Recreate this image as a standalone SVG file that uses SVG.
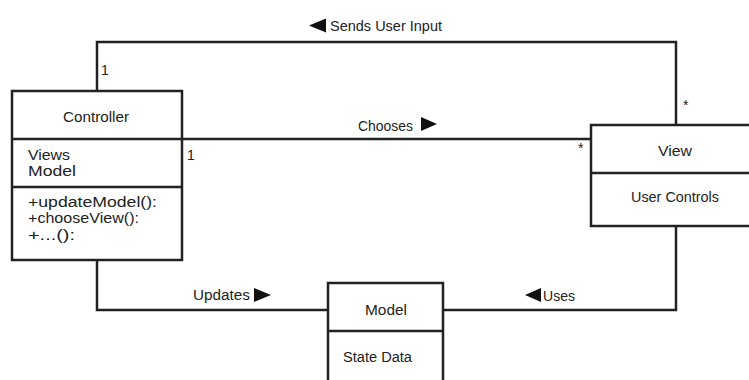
<svg xmlns="http://www.w3.org/2000/svg" width="749" height="380" viewBox="0 0 749 380">
  <style>
    .box { fill: #ffffff; stroke: #222222; stroke-width: 2.5; }
    .div { stroke: #222222; stroke-width: 2.5; }
    .wire { fill: none; stroke: #222222; stroke-width: 2.5; }
    .t { font-family: "Liberation Sans Narrow", "Liberation Sans", Arial, sans-serif; font-size: 14px; fill: #222222; }
    .tri { fill: #111111; }
  </style>
  <rect width="749" height="380" fill="#ffffff"/>

  <!-- associations -->
  <g id="connectors">
    <!-- Sends User Input: View -> Controller -->
    <polyline class="wire" points="97,91 97,42 676,42 676,125"/>
    <polygon class="tri" points="309,25.5 326,18.5 326,32.5"/>
    <text class="t" x="330" y="31" textLength="112" lengthAdjust="spacingAndGlyphs">Sends User Input</text>
    <text class="t" x="101" y="75">1</text>
    <text class="t" x="683" y="110">*</text>

    <!-- Chooses: Controller -> View -->
    <line class="wire" x1="182" y1="139" x2="591" y2="139"/>
    <text class="t" x="358" y="131" textLength="55" lengthAdjust="spacingAndGlyphs">Chooses</text>
    <polygon class="tri" points="437,124 421,117 421,131"/>
    <text class="t" x="187" y="160">1</text>
    <text class="t" x="578" y="153">*</text>

    <!-- Updates: Controller -> Model -->
    <polyline class="wire" points="97,260 97,310 328,310"/>
    <text class="t" x="193" y="300" textLength="57" lengthAdjust="spacingAndGlyphs">Updates</text>
    <polygon class="tri" points="271,295 254,288 254,302"/>

    <!-- Uses: View -> Model -->
    <polyline class="wire" points="443,310 676,310 676,226"/>
    <polygon class="tri" points="525,295 541,288 541,302"/>
    <text class="t" x="543" y="301" textLength="32" lengthAdjust="spacingAndGlyphs">Uses</text>
  </g>

  <!-- Controller class -->
  <g id="controller">
    <rect class="box" x="12" y="91" width="170" height="169"/>
    <line class="div" x1="12" y1="139" x2="182" y2="139"/>
    <line class="div" x1="12" y1="187" x2="182" y2="187"/>
    <text class="t" x="63" y="122" textLength="66" lengthAdjust="spacingAndGlyphs">Controller</text>
    <text class="t" x="28" y="160" textLength="42" lengthAdjust="spacingAndGlyphs">Views</text>
    <text class="t" x="28" y="176" textLength="48" lengthAdjust="spacingAndGlyphs">Model</text>
    <text class="t" x="28" y="207" textLength="129" lengthAdjust="spacingAndGlyphs">+updateModel():</text>
    <text class="t" x="28" y="223" textLength="111" lengthAdjust="spacingAndGlyphs">+chooseView():</text>
    <text class="t" x="28" y="240" textLength="47" lengthAdjust="spacingAndGlyphs">+...():</text>
  </g>

  <!-- View class -->
  <g id="view">
    <rect class="box" x="591" y="125" width="170" height="101"/>
    <line class="div" x1="591" y1="173" x2="761" y2="173"/>
    <text class="t" x="658" y="156" textLength="34" lengthAdjust="spacingAndGlyphs">View</text>
    <text class="t" x="631" y="202" textLength="88" lengthAdjust="spacingAndGlyphs">User Controls</text>
  </g>

  <!-- Model class -->
  <g id="model">
    <rect class="box" x="328" y="283" width="115" height="110"/>
    <line class="div" x1="328" y1="331" x2="443" y2="331"/>
    <text class="t" x="365" y="315" textLength="42" lengthAdjust="spacingAndGlyphs">Model</text>
    <text class="t" x="343" y="362" textLength="69" lengthAdjust="spacingAndGlyphs">State Data</text>
  </g>
</svg>
